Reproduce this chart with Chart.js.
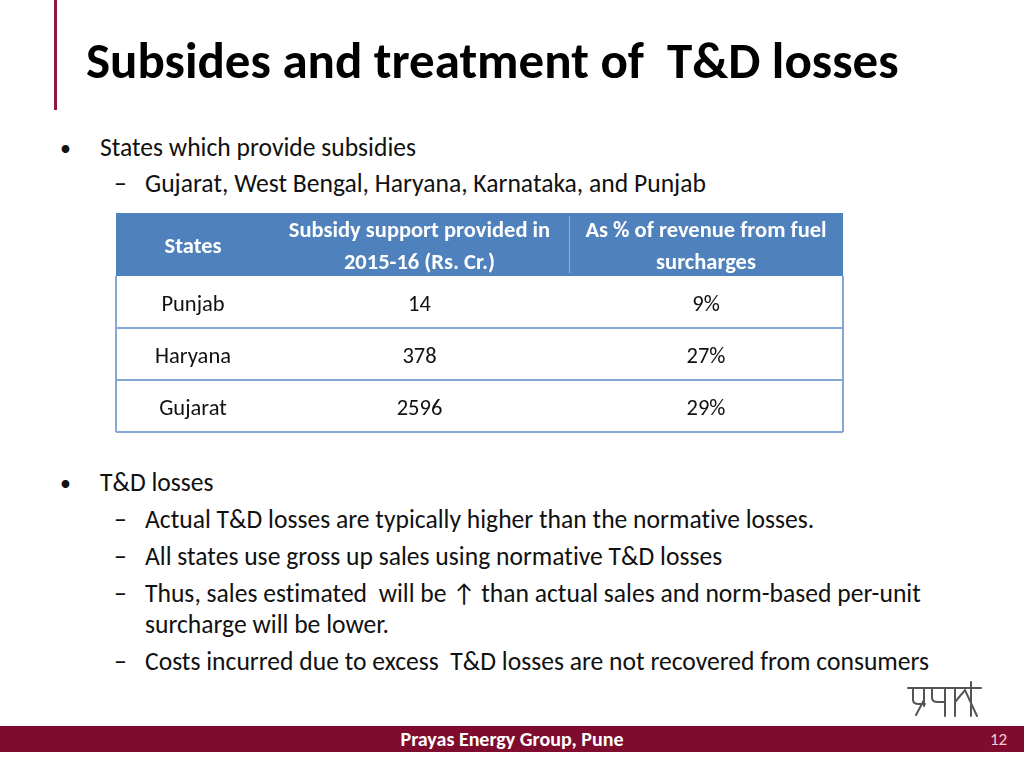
<!DOCTYPE html>
<html>
<head>
<meta charset="utf-8">
<script src="https://cdn.jsdelivr.net/npm/chart.js@4.4.1/dist/chart.umd.min.js"></script>
<style>
  html, body { margin: 0; padding: 0; background: #fff; }
  body { width: 1024px; height: 768px; position: relative; overflow: hidden;
         font-family: Carlito, Lato, "Open Sans", sans-serif; color: #111;
         font-variant-ligatures: none; }
  .abs { position: absolute; white-space: nowrap; }
  #redline { left: 54px; top: 0; width: 3px; height: 110px; background: #8c1a42; }
  #title { left: 86px; top: 33px; font-size: 51px; font-weight: bold; line-height: 56px; color: #000; }
  .l1, .l2 { font-size: 25.6px; line-height: 30px; }
  .bul { font-size: 22px; line-height: 30px; }
  #tableWrap { left: 115px; top: 212px; width: 730px; height: 223px; }
  #footer { left: 0; top: 726px; width: 1024px; height: 26px; background: #7f0c2e; }
  #footText { left: 0; width: 1024px; top: 726px; text-align: center; font-size: 20px; line-height: 27px;
              font-weight: bold; color: #fff; }
  #pageNo { left: 990px; top: 726px; font-size: 17px; line-height: 27px; color: #f3cdd7; }
  #logo { left: 905px; top: 678px; }
</style>
</head>
<body>
<div id="redline" class="abs"></div>
<div id="title" class="abs">Subsides and treatment of&nbsp; T&amp;D losses</div>

<div class="abs bul" style="left:60px; top:134px;">•</div>
<div class="abs l1" style="left:100px; top:133px;">States which provide subsidies</div>
<div class="abs l2" style="left:114px; top:169px;">–</div>
<div class="abs l2" style="left:145px; top:169px;">Gujarat, West Bengal, Haryana, Karnataka, and Punjab</div>

<div id="tableWrap" class="abs"><canvas id="tbl" width="730" height="223"></canvas></div>

<div class="abs bul" style="left:60px; top:469px;">•</div>
<div class="abs l1" style="left:100px; top:468px;">T&amp;D losses</div>
<div class="abs l2" style="left:114px; top:505px;">–</div>
<div class="abs l2" style="left:145px; top:505px;">Actual T&amp;D losses are typically higher than the normative losses.</div>
<div class="abs l2" style="left:114px; top:542px;">–</div>
<div class="abs l2" style="left:145px; top:542px;">All states use gross up sales using normative T&amp;D losses</div>
<div class="abs l2" style="left:114px; top:579px;">–</div>
<div class="abs l2" style="left:145px; top:579px;">Thus, sales estimated&nbsp; will be ↑ than actual sales and norm-based per-unit</div>
<div class="abs l2" style="left:145px; top:610px;">surcharge will be lower.</div>
<div class="abs l2" style="left:114px; top:647px;">–</div>
<div class="abs l2" style="left:145px; top:647px;">Costs incurred due to excess&nbsp; T&amp;D losses are not recovered from consumers</div>

<svg id="logo" class="abs" width="80" height="42" viewBox="0 0 80 42">
  <g stroke="#555" stroke-width="2" fill="none" stroke-linecap="round">
    <line x1="3" y1="10" x2="76" y2="10"/>
    <path d="M8 10 L8 22 Q8 26 14 26 L20 26"/>
    <line x1="19" y1="10" x2="19" y2="28"/>
    <line x1="19" y1="22" x2="11" y2="37"/>
    <path d="M27 10 L27 20 Q27 24 33 24 L40 24"/>
    <line x1="40" y1="10" x2="40" y2="38"/>
    <line x1="50" y1="10" x2="50" y2="38"/>
    <path d="M50 24 L60 12 L72 38"/>
    <line x1="66" y1="4" x2="66" y2="38"/>
  </g>
</svg>

<div id="footer" class="abs"></div>
<div id="footText" class="abs">Prayas Energy Group, Pune</div>
<div id="pageNo" class="abs">12</div>

<script>
// Datos de la tabla
const headerLines = [
    ['States'],
    ['Subsidy support provided in', '2015-16 (Rs. Cr.)'],
    ['As % of revenue from fuel', 'surcharges']
];
const states = ['Punjab', 'Haryana', 'Gujarat'];
const subsidyCr = [14, 378, 2596];
const pctOfSurcharge = [9, 27, 29];

// Bordes de columnas y filas (unidades de la escala)
const colEdges = [0, 154, 453, 727];
const rowEdges = [0, 63, 115, 167, 219];

const headerBlue = '#4f81bd';
const gridBlue = '#84a7d4';
const fontStack = 'Carlito, Lato, "Open Sans", sans-serif';

const tablePlugin = {
    id: 'tablePlugin',
    afterDraw(chart) {
        const ctx = chart.ctx;
        const x = chart.scales.x;
        const y = chart.scales.y;
        const left = x.getPixelForValue(colEdges[0]);
        const right = x.getPixelForValue(colEdges[colEdges.length - 1]);
        const bottom = y.getPixelForValue(rowEdges[rowEdges.length - 1]);
        const colCenter = i => (x.getPixelForValue(colEdges[i]) + x.getPixelForValue(colEdges[i + 1])) / 2;
        const rowCenter = r => (y.getPixelForValue(rowEdges[r]) + y.getPixelForValue(rowEdges[r + 1])) / 2 + 3;

        ctx.save();
        // Cabecera
        const hTop = y.getPixelForValue(rowEdges[0]);
        const hBot = y.getPixelForValue(rowEdges[1]);
        ctx.fillStyle = headerBlue;
        ctx.fillRect(left, hTop, right - left, hBot - hTop);
        ctx.strokeStyle = '#8db0de';
        ctx.lineWidth = 1;
        ctx.beginPath();
        const sx = Math.round(x.getPixelForValue(colEdges[2])) + 0.5;
        ctx.moveTo(sx, hTop + 3);
        ctx.lineTo(sx, hBot - 3);
        ctx.stroke();

        ctx.fillStyle = '#ffffff';
        ctx.font = 'bold 22.5px ' + fontStack;
        ctx.textAlign = 'center';
        ctx.textBaseline = 'middle';
        headerLines.forEach((lines, i) => {
            const cy = rowCenter(0);
            lines.forEach((t, k) => {
                const off = (k - (lines.length - 1) / 2) * 32;
                ctx.fillText(t, colCenter(i), cy + off);
            });
        });

        // Filas
        ctx.font = '22.5px ' + fontStack;
        ctx.fillStyle = '#111';
        states.forEach((s, r) => {
            const cy = rowCenter(r + 1);
            ctx.fillText(s, colCenter(0), cy);
            ctx.fillText(String(subsidyCr[r]), colCenter(1), cy);
            ctx.fillText(pctOfSurcharge[r] + '%', colCenter(2), cy);
        });

        // Bordes
        ctx.strokeStyle = gridBlue;
        ctx.lineWidth = 2;
        ctx.beginPath();
        for (let r = 2; r < rowEdges.length; r++) {
            const py = y.getPixelForValue(rowEdges[r]);
            ctx.moveTo(left, py);
            ctx.lineTo(right, py);
        }
        ctx.moveTo(left, hBot);
        ctx.lineTo(left, bottom);
        ctx.moveTo(right, hBot);
        ctx.lineTo(right, bottom);
        ctx.stroke();
        ctx.restore();
    }
};

new Chart(document.getElementById('tbl').getContext('2d'), {
    type: 'scatter',
    data: { datasets: [{ data: [], pointRadius: 0 }] },
    options: {
        responsive: false,
        animation: false,
        layout: { padding: { left: 1, right: 2, top: 1, bottom: 3 } },
        plugins: { legend: { display: false }, tooltip: { enabled: false } },
        scales: {
            x: { type: 'linear', min: colEdges[0], max: colEdges[colEdges.length - 1], display: false },
            y: { type: 'linear', min: rowEdges[0], max: rowEdges[rowEdges.length - 1], reverse: true, display: false }
        }
    },
    plugins: [tablePlugin]
});
</script>
</body>
</html>
